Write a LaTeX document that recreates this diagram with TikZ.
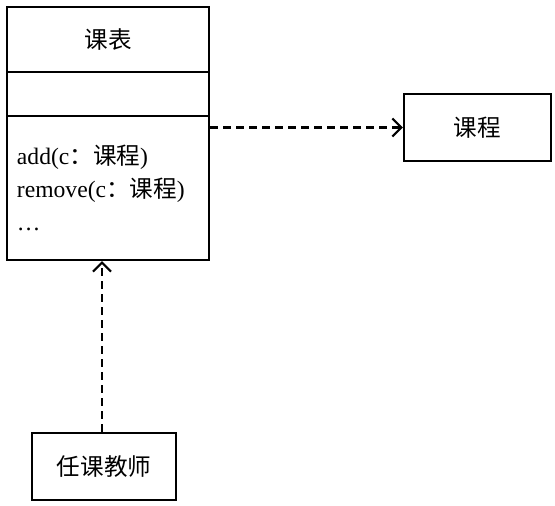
\documentclass[tikz,border=0pt]{standalone}
\usepackage{fontspec}
\setmainfont{Liberation Serif}
\newfontfamily\cjk{Noto Sans CJK SC}
\usetikzlibrary{arrows.meta}
\tikzset{
  classbox/.style={draw, line width=1.1pt, minimum width=101pt, inner sep=0pt,
                   font=\fontsize{11.8}{16.5}\selectfont},
  dep/.style={dash pattern=on 4pt off 2.5pt, line width=1.1pt,
              -{Straight Barb[length=4.5pt,width=9pt]}},
}

\begin{document}
\begin{tikzpicture}[x=0.5pt,y=-0.5pt]
        \useasboundingbox (0,0) rectangle (555,506);
        \node [classbox, minimum height=32.5pt] (head) at (108,39.5) {\cjk 课表};   %name
        \node [classbox, minimum height=22pt]   (attr) at (108,94)   {};           %attributes
        \node [classbox, minimum height=72pt, text width=91pt, inner xsep=5pt, align=left]
              (ops) at (108,188)
              {add(c{\cjk ：课程})\\remove(c{\cjk ：课程})\\\ldots};              %operations
        \node [classbox, minimum width=73.5pt, minimum height=33.5pt] (course)  at (477.5,127.5) {\cjk 课程};
        \node [classbox, minimum width=72pt,   minimum height=33.5pt] (teacher) at (104,466.5)  {\cjk 任课教师};

        \draw [dep] (ops.east |- course.west) -- (course.west);                  %uses
        \draw [dep] ([xshift=-1pt]teacher.north) -- ([xshift=-1pt]teacher.north |- ops.south); %uses
      \end{tikzpicture}
\end{document}
